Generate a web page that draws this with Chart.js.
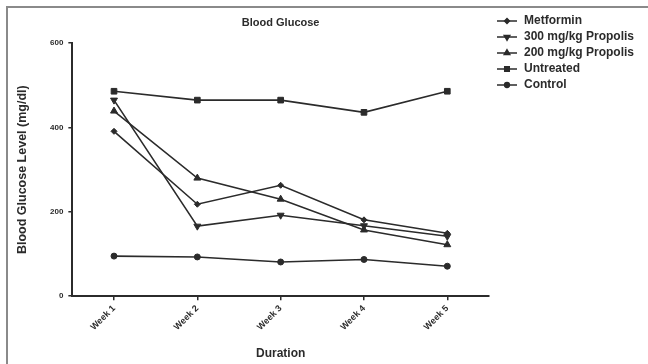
<!DOCTYPE html>
<html>
<head>
<meta charset="utf-8">
<script src="https://cdn.jsdelivr.net/npm/chart.js@4"></script>
<style>
  html, body { margin: 0; padding: 0; background: #fff; }
  #wrap { position: relative; width: 648px; height: 364px; }
  #frame { position: absolute; left: 6px; top: 6px; right: 0; bottom: 0;
           border-top: 2px solid #8a8a8a; border-left: 2px solid #8a8a8a; }
  canvas { position: absolute; left: 0; top: 0; }
</style>
</head>
<body>
<div id="wrap">
  <div id="frame"></div>
  <canvas id="grafico" width="648" height="364"></canvas>
</div>
<script>
// semanas e valores de glicose
const semanas = ['Week 1', 'Week 2', 'Week 3', 'Week 4', 'Week 5'];
const metformin = [391, 218, 263, 181, 149];
const propolis300 = [465, 166, 192, 167, 142];
const propolis200 = [439, 280, 230, 157, 122];
const untreated = [486, 465, 465, 436, 486];
const control = [95, 93, 81, 87, 71];
const yTicks = [0, 200, 400, 600];

const cor = '#2b2b2b';
const fonte = 'Liberation Sans, Arial, sans-serif';

// estilos dos marcadores de cada série
const series = [
  { label: 'Metformin', data: metformin, style: 'rectRot', radius: 3, rot: 0 },
  { label: '300 mg/kg Propolis', data: propolis300, style: 'triangle', radius: 4, rot: 180 },
  { label: '200 mg/kg Propolis', data: propolis200, style: 'triangle', radius: 4, rot: 0 },
  { label: 'Untreated', data: untreated, style: 'rect', radius: 4, rot: 0 },
  { label: 'Control', data: control, style: 'circle', radius: 3, rot: 0 }
];

// pequena imagem (linha + marcador) para a legenda
function iconeLegenda(s) {
  const c = document.createElement('canvas');
  c.width = 25; c.height = 10;
  const g = c.getContext('2d');
  g.strokeStyle = cor; g.lineWidth = 1.5;
  g.beginPath(); g.moveTo(4, 5); g.lineTo(24, 5); g.stroke();
  g.fillStyle = cor;
  Chart.helpers.drawPoint(g, { pointStyle: s.style, radius: s.radius * 0.8, rotation: s.rot, borderWidth: 1 }, 14, 5);
  g.fill();
  return c;
}

const ctx = document.getElementById('grafico');

new Chart(ctx, {
  type: 'line',
  data: {
    labels: semanas,
    datasets: series.map((s) => ({
      label: s.label,
      data: s.data,
      borderColor: cor,
      backgroundColor: cor,
      borderWidth: 1.6,
      pointStyle: s.style,
      pointRadius: s.radius,
      pointRotation: s.rot,
      pointBorderWidth: 1,
      pointBackgroundColor: cor,
      pointBorderColor: cor,
      tension: 0
    }))
  },
  options: {
    responsive: false,
    animation: false,
    layout: { padding: { top: 11, left: 15, right: 4, bottom: 3 } },
    plugins: {
      title: {
        display: true,
        text: 'Blood Glucose',
        fullSize: false,
        color: cor,
        font: { family: fonte, size: 11, weight: 'bold' },
        padding: { top: 5, bottom: 14 }
      },
      legend: {
        position: 'right',
        align: 'start',
        fullSize: true,
        labels: {
          usePointStyle: true,
          pointStyleWidth: 25,
          boxHeight: 10,
          padding: 4,
          color: cor,
          font: { family: fonte, size: 12, weight: 'bold' },
          generateLabels: () => series.map((s, i) => ({
            text: s.label,
            datasetIndex: i,
            pointStyle: iconeLegenda(s),
            fillStyle: cor,
            strokeStyle: cor,
            lineWidth: 0,
            fontColor: cor
          }))
        }
      },
      tooltip: { enabled: false }
    },
    scales: {
      x: {
        offset: true,
        grid: { drawOnChartArea: false, drawTicks: true, tickLength: 4, color: cor, lineWidth: 1.5, offset: false },
        border: { display: true, color: cor, width: 2 },
        ticks: {
          color: cor,
          maxRotation: 45,
          minRotation: 45,
          padding: 3,
          font: { family: fonte, size: 9, weight: 'bold' }
        },
        title: {
          display: true,
          text: 'Duration',
          color: cor,
          font: { family: fonte, size: 12, weight: 'bold' },
          padding: { top: 11, bottom: 0 }
        }
      },
      y: {
        min: 0,
        max: 600,
        afterBuildTicks: (axis) => { axis.ticks = yTicks.map((v) => ({ value: v })); },
        grid: { drawOnChartArea: false, drawTicks: true, tickLength: 4, color: cor, lineWidth: 1.5 },
        border: { display: true, color: cor, width: 2 },
        ticks: {
          color: cor,
          padding: 5,
          font: { family: fonte, size: 8, weight: 'bold' }
        },
        title: {
          display: true,
          text: 'Blood Glucose Level (mg/dl)',
          color: cor,
          font: { family: fonte, size: 12.5, weight: 'bold' },
          padding: { top: 0, bottom: 15 }
        }
      }
    }
  }
});
</script>
</body>
</html>
